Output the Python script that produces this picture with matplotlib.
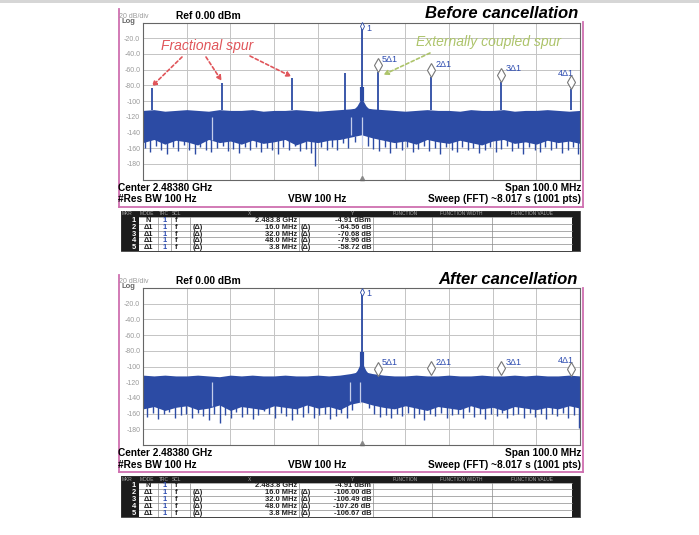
import numpy as np
import matplotlib.pyplot as plt
from matplotlib.transforms import offset_copy

plt.rcParams['font.family'] = ['Liberation Sans', 'DejaVu Sans']

# datos (MHz respecto al centro, dBm)
carrier_dbm = -4.91
delta_names = ["2Δ1", "3Δ1", "4Δ1", "5Δ1"]
delta_mhz = [16.0, 32.0, 48.0, 3.8]
delta_before = [-64.56, -70.68, -79.96, -58.72]
delta_after = [-106.00, -106.49, -107.26, -106.67]

# espurias del lado izquierdo (antes)
left_spur_mhz = [-48.0, -32.0, -16.0, -3.8]
left_spur_dbm = [-83.5, -76.5, -71.0, -64.0]

# envolvente del ruido
env_mhz = [-50, -47.5, -45, -42.5, -40, -37.5, -35, -32.5, -30, -27.5, -25, -22.5, -20,
           -17.5, -15, -12.5, -10, -7.5, -5, -2.5, 0, 2.5, 5, 7.5, 10, 12.5, 15, 17.5,
           20, 22.5, 25, 27.5, 30, 32.5, 35, 37.5, 40, 42.5, 45, 47.5, 50]
before_hi = [-112, -111, -113, -112, -111, -112, -113, -111, -112, -112, -111, -113, -112,
             -112, -111, -112, -113, -112, -111, -110, -108, -110, -111, -112, -113, -112,
             -111, -112, -112, -113, -111, -112, -112, -111, -113, -112, -112, -111, -112,
             -113, -112]
before_lo = [-153, -149, -155, -150, -152, -156, -149, -153, -151, -155, -150, -154, -152,
             -149, -156, -151, -153, -150, -149, -146, -143, -147, -150, -153, -151, -155,
             -149, -152, -154, -150, -153, -156, -151, -149, -154, -152, -155, -150, -153,
             -151, -154]
after_hi = [-111, -112, -111, -112, -112, -111, -112, -113, -111, -112, -111, -112, -112,
            -111, -112, -112, -111, -112, -111, -109, -106, -109, -111, -112, -112, -111,
            -112, -112, -111, -112, -112, -111, -112, -112, -111, -112, -111, -112, -112,
            -111, -112]
after_lo = [-154, -151, -156, -152, -150, -155, -153, -149, -156, -151, -153, -155, -150,
            -152, -154, -149, -153, -151, -155, -148, -145, -149, -152, -154, -150, -153,
            -156, -151, -153, -155, -150, -154, -152, -156, -151, -153, -155, -152, -154,
            -150, -153]

bump_mhz = [-2.0, -1.0, -0.4, 0.0, 0.4, 1.0, 2.0]
bump_before = [-112, -106, -100, -97, -100, -106, -112]
bump_after = [-112, -105, -98, -94, -98, -105, -112]

before_dip_mhz = [-49.5, -48.3, -47.1, -45.8, -44.6, -43.2, -42.0, -40.7, -39.5, -38.1,
                  -36.9, -35.6, -34.4, -33.0, -31.8, -30.5, -29.3, -28.0, -26.7, -25.5,
                  -24.2, -22.9, -21.7, -20.4, -19.1, -17.9, -16.6, -15.3, -14.1, -12.8,
                  -11.5, -10.6, -9.3, -8.0, -6.8, -5.5, -4.3, -3.0, -1.6, 1.4,
                  2.7, 4.1, 5.4, 6.6, 7.9, 9.2, 10.4, 11.7, 13.0, 14.2,
                  15.5, 16.8, 18.0, 19.3, 20.6, 21.8, 23.1, 24.4, 25.6, 26.9,
                  28.2, 29.4, 30.7, 32.0, 33.2, 34.5, 35.8, 37.0, 38.3, 39.6,
                  40.8, 42.1, 43.4, 44.6, 45.9, 47.2, 48.4, 49.6]
before_dip_dbm = [-160, -165, -157, -162, -168, -159, -164, -156, -163, -167,
                  -158, -162, -165, -160, -157, -164, -161, -166, -159, -163,
                  -158, -165, -160, -162, -167, -159, -163, -157, -164, -161,
                  -166, -183, -159, -163, -158, -162, -154, -160, -152, -157,
                  -161, -164, -159, -166, -160, -163, -158, -165, -161, -157,
                  -164, -160, -167, -159, -162, -165, -158, -163, -160, -166,
                  -162, -159, -165, -161, -157, -164, -160, -167, -159, -162,
                  -165, -158, -163, -160, -166, -162, -159, -168]
after_dip_mhz = [-49.0, -47.7, -46.5, -45.2, -44.0, -42.6, -41.4, -40.1, -38.9, -37.5,
                 -36.3, -35.0, -33.8, -32.4, -31.2, -29.9, -28.7, -27.4, -26.1, -24.9,
                 -23.6, -22.3, -21.1, -19.8, -18.5, -17.3, -16.0, -14.7, -13.5, -12.2,
                 -10.9, -9.7, -8.4, -7.2, -5.9, -4.7, -3.4, -2.1, 1.7, 2.9,
                 4.2, 5.5, 6.8, 8.1, 9.3, 10.6, 11.9, 13.1, 14.4, 15.7,
                 16.9, 18.2, 19.5, 20.7, 22.0, 23.3, 24.5, 25.8, 27.1, 28.3,
                 29.6, 30.9, 32.1, 33.4, 34.7, 35.9, 37.2, 38.5, 39.7, 41.0,
                 42.3, 43.5, 44.8, 46.1, 47.3, 48.6, 49.7]
after_dip_dbm = [-164, -159, -167, -161, -158, -165, -162, -160, -166, -159,
                 -163, -168, -160, -172, -162, -165, -158, -164, -161, -167,
                 -162, -157, -160, -165, -159, -163, -168, -161, -164, -159,
                 -166, -162, -160, -167, -163, -159, -165, -155, -153, -161,
                 -164, -162, -166, -160, -163, -159, -165, -161, -168, -160,
                 -163, -159, -166, -162, -160, -165, -158, -164, -161, -167,
                 -160, -163, -159, -166, -162, -160, -165, -159, -164, -161,
                 -167, -160, -163, -159, -165, -162, -178]

before_light_mhz = [-34.3, -2.3, 0.0]
before_light_dbm = [-150, -143, -156]
after_light_mhz = [-34.3, -2.6, -0.3]
after_light_dbm = [-150, -144, -146]

y_ticks = [-180, -160, -140, -120, -100, -80, -60, -40, -20]
y_labels = ["-180", "-160", "-140", "-120", "-100", "-80.0", "-60.0", "-40.0", "-20.0"]

tbl_mkr = ["1", "2", "3", "4", "5"]
tbl_mode = ["N", "Δ1", "Δ1", "Δ1", "Δ1"]
tbl_x = ["2.483.8 GHz", "16.0 MHz", "32.0 MHz", "48.0 MHz", "3.8 MHz"]
tbl_y_before = ["-4.91 dBm", "-64.56 dB", "-70.68 dB", "-79.96 dB", "-58.72 dB"]
tbl_y_after = ["-4.91 dBm", "-106.00 dB", "-106.49 dB", "-107.26 dB", "-106.67 dB"]

trace = '#2c4ba4'
light = '#c4cdea'
pink = '#cf6fb0'
mk_blue = '#2d4cb0'

W, H = 699, 535
fig = plt.figure(figsize=(W / 100, H / 100), dpi=100)


def px_axes(left, top, right, bottom):
    return fig.add_axes([left / W, 1 - bottom / H, (right - left) / W, (bottom - top) / H])


def panel(ax, hi, lo, bump, dip_f, dip_l, light_f, light_l, deltas, spurs):
    ax.set_xlim(-50, 50)
    ax.set_ylim(-200, 0)
    ax.set_xticks(np.linspace(-50, 50, 11))
    ax.set_yticks(y_ticks)
    ax.set_yticklabels(y_labels)
    ax.set_xticklabels([])
    ax.tick_params(length=0, labelsize=5, labelcolor='#9a9a9a', pad=2)
    ax.grid(True, color='#c4c4c4', lw=0.7)
    ax.set_axisbelow(True)
    for s in ax.spines.values():
        s.set_color('#666666')
        s.set_linewidth(0.8)

    ax.fill_between(env_mhz, hi, lo, color=trace, lw=0)
    ax.fill_between(bump_mhz, bump, -125, color=trace, lw=0)
    ax.vlines(dip_f, -145, dip_l, color=trace, lw=1.0)
    ax.vlines(light_f, -120, light_l, color=light, lw=0.9)

    levels = [carrier_dbm + d for d in deltas]
    if spurs:
        ax.vlines(delta_mhz, -112, levels, color=trace, lw=1.3)
        ax.vlines(left_spur_mhz, -112, left_spur_dbm, color=trace, lw=1.3)
    ax.vlines(0, -110, carrier_dbm, color=trace, lw=1.3)
    ax.vlines(0, -100, -82, color=trace, lw=3)
    ax.plot(0, -198, marker='^', ms=3, color='#8a8a8a', clip_on=False)

    # marcadores
    up = offset_copy(ax.transData, fig=fig, x=0, y=7, units='dots')
    ax.plot(delta_mhz, levels, ls='none', marker='d', ms=7, mfc='white',
            mec='#777777', mew=0.8, transform=up, clip_on=False, zorder=5)
    for name, f, lv in zip(delta_names, delta_mhz, levels):
        if name == "4Δ1":
            tr = offset_copy(ax.transData, fig=fig, x=3, y=16, units='dots')
            ax.text(f, lv, name, transform=tr, ha='right', va='center', fontsize=6.5, color=mk_blue)
        else:
            tr = offset_copy(ax.transData, fig=fig, x=4, y=13, units='dots')
            ax.text(f, lv, name, transform=tr, ha='left', va='center', fontsize=6.5, color=mk_blue)
    ax.plot(0, carrier_dbm, marker='d', ms=4, mfc='white', mec=trace, mew=0.6, clip_on=False, zorder=5)
    tr = offset_copy(ax.transData, fig=fig, x=5, y=-2, units='dots')
    ax.text(0, carrier_dbm, "1", transform=tr, ha='left', va='center', fontsize=6.5, color=mk_blue)


ax1 = px_axes(143, 22.5, 580, 179.5)
ax2 = px_axes(143, 288, 580, 445)
panel(ax1, before_hi, before_lo, bump_before, before_dip_mhz, before_dip_dbm,
      before_light_mhz, before_light_dbm, delta_before, True)
panel(ax2, after_hi, after_lo, bump_after, after_dip_mhz, after_dip_dbm,
      after_light_mhz, after_light_dbm, delta_after, False)

ov = fig.add_axes([0, 0, 1, 1], zorder=5)
ov.set_xlim(0, W)
ov.set_ylim(H, 0)
ov.axis('off')
ov.add_patch(plt.Rectangle((0, 0), W, 3, color='#d6d6d6', lw=0))


def frame(y0, title, yvals):
    ov.plot([119, 119], [9 + y0, 206.5 + y0], color=pink, lw=1.3)
    ov.plot([583, 583], [22 + y0, 206.5 + y0], color=pink, lw=1.3)
    ov.plot([119, 583], [206.5 + y0, 206.5 + y0], color=pink, lw=1.3)
    ov.text(119, 16 + y0, "20 dB/div", fontsize=5, color='#9a9a9a', va='center')
    ov.text(121, 21.5 + y0, "Log", fontsize=5.5, color='#666666', va='center', weight='bold')
    ov.text(176, 16 + y0, "Ref 0.00 dBm", fontsize=7.4, weight='bold', va='center')
    ov.text(578, 14 + y0, title, fontsize=12, weight='bold', style='italic', ha='right', va='center')
    ov.text(118, 188 + y0, "Center 2.48380 GHz", fontsize=7.3, weight='bold', va='center')
    ov.text(581, 188 + y0, "Span 100.0 MHz", fontsize=7.3, weight='bold', va='center', ha='right')
    ov.text(118, 199 + y0, "#Res BW 100 Hz", fontsize=7.3, weight='bold', va='center')
    ov.text(317, 199 + y0, "VBW 100 Hz", fontsize=7.3, weight='bold', va='center', ha='center')
    ov.text(581, 199 + y0, "Sweep (FFT) ~8.017 s (1001 pts)", fontsize=7.3, weight='bold',
            va='center', ha='right')

    # tabla de marcadores
    top = 210.5 + y0
    hh, rh = 6.5, 6.8
    bot = top + hh + rh * 5
    ov.add_patch(plt.Rectangle((121, top), 459, hh, color='#1c1c1c', lw=0))
    ov.add_patch(plt.Rectangle((121, top), 18, bot - top, color='#1c1c1c', lw=0))
    ov.add_patch(plt.Rectangle((572, top), 8, bot - top, color='#1c1c1c', lw=0))
    for xh, txt, ha in [(122, "MKR", 'left'), (140, "MODE", 'left'), (159, "TRC", 'left'),
                        (172, "SCL", 'left'), (250, "X", 'center'), (353, "Y", 'center'),
                        (405, "FUNCTION", 'center'), (461, "FUNCTION WIDTH", 'center'),
                        (532, "FUNCTION VALUE", 'center')]:
        ov.text(xh, top + hh / 2, txt, fontsize=3.5, color='#a8a8a8', ha=ha, va='center')
    for i in range(6):
        yy = top + hh + rh * i
        ov.plot([139, 572], [yy, yy], color='#8a8a8a', lw=0.5)
    for xc in [158, 171, 190, 299, 373, 432, 492]:
        ov.plot([xc, xc], [top + hh, bot], color='#8a8a8a', lw=0.5)
    ov.plot([121, 580, 580, 121, 121], [top, top, bot, bot, top], color='#333333', lw=0.6)
    for i in range(5):
        yc = top + hh + rh * (i + 0.5)
        kw = dict(fontsize=5.4, weight='bold', va='center')
        ov.text(134, yc, tbl_mkr[i], color='white', ha='center', **kw)
        ov.text(148, yc, tbl_mode[i], color='#222222', ha='center', **kw)
        ov.text(165, yc, "1", color=mk_blue, ha='center', **kw)
        ov.text(176, yc, "f", color='#222222', ha='center', **kw)
        ov.text(297, yc, tbl_x[i], color='#222222', ha='right', **kw)
        ov.text(371, yc, yvals[i], color='#222222', ha='right', **kw)
        if i > 0:
            ov.text(193, yc, "(Δ)", color='#222222', ha='left', **kw)
            ov.text(301, yc, "(Δ)", color='#222222', ha='left', **kw)


frame(0, "Before cancellation", tbl_y_before)
frame(265.5, "After cancellation", tbl_y_after)

# anotaciones
red = '#e0555a'
green = '#adc46a'
ov.text(207, 46, "Fractional spur", fontsize=10, style='italic', color=red, ha='center', va='center')
ov.text(488, 42, "Externally coupled spur", fontsize=10, style='italic', color=green,
        ha='center', va='center')
for (sx, sy), f, lv in zip([(182, 57), (206, 57), (250, 56)], left_spur_mhz[:3], left_spur_dbm[:3]):
    ov.annotate('', xy=(f, lv + 2), xycoords=ax1.transData, xytext=(sx, sy), textcoords='data',
                arrowprops=dict(arrowstyle='-|>', color=red, lw=1.2, ls=(0, (2, 1.5)),
                                mutation_scale=7, shrinkA=0, shrinkB=0))
ov.annotate('', xy=(delta_mhz[3] + 1.2, carrier_dbm + delta_before[3] - 3), xycoords=ax1.transData,
            xytext=(430, 53), textcoords='data',
            arrowprops=dict(arrowstyle='-|>', color=green, lw=1.2, ls=(0, (2, 1.5)),
                            mutation_scale=7, shrinkA=0, shrinkB=0))

fig.savefig('out.png', dpi=100)
